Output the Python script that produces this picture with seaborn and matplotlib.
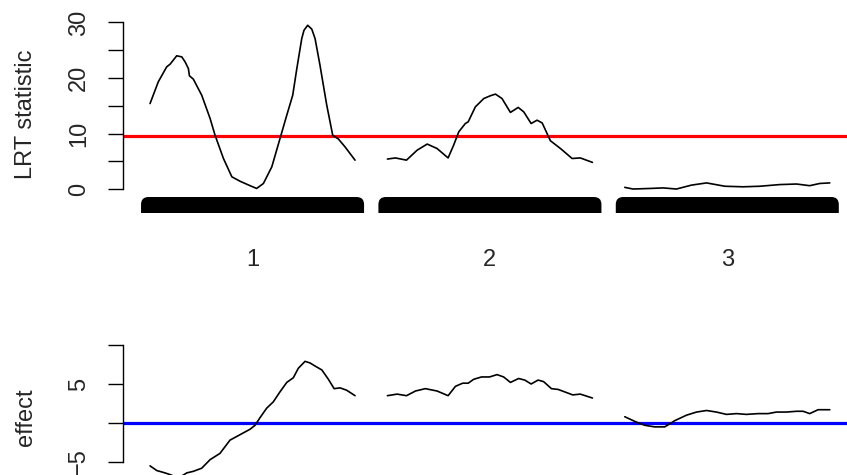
import pandas as pd
import matplotlib
matplotlib.use('Agg')
import matplotlib.pyplot as plt
from matplotlib.patches import FancyBboxPatch
import seaborn as sns

# Chromosomes and map
chroms = ['1', '2', '3']
chrom_len = [100, 100, 100]
gap = 15.8
threshold = 9.6

# LRT statistic per chromosome (position in cM, value)
pos1_lod = [0, 4.0, 8.1, 9.8, 13.0, 15.5, 17.1, 18.7, 19.2, 21.1, 25.2, 29.3, 31.7, 35.8, 39.9, 43.9, 48.8,
            52.0, 55.3, 59.4, 63.4, 66.7, 69.6, 71.6, 74.0, 75.1, 76.9, 78.9, 80.5, 82.9, 86.2, 89.1, 91.9, 95.1, 100]
lod1 = [15.4, 19.3, 22.0, 22.5, 24.0, 23.8, 22.9, 21.7, 20.4, 19.8, 16.9, 12.7, 9.7, 5.5, 2.2, 1.4, 0.6,
        0.1, 1.0, 4.0, 9.1, 13.3, 16.9, 21.7, 27.1, 28.6, 29.5, 28.8, 27.1, 22.3, 15.1, 9.7, 9.0, 7.6, 5.2]

pos2_lod = [0, 3.9, 9.3, 14.5, 19.4, 24.2, 29.6, 32.3, 34.8, 38.0, 39.4, 42.9, 47.0, 50.2, 52.7, 55.9,
            60.0, 63.8, 66.5, 70.1, 73.0, 75.5, 79.5, 84.4, 90.1, 94.1, 100]
lod2 = [5.4, 5.6, 5.2, 7.0, 8.1, 7.3, 5.6, 7.9, 10.3, 11.8, 12.1, 14.8, 16.3, 16.8, 17.1, 16.3,
        13.8, 14.7, 13.9, 11.8, 12.4, 11.9, 8.7, 7.3, 5.5, 5.6, 4.8]

pos3_lod = [0, 4.0, 12.2, 18.7, 25.2, 32.5, 39.9, 48.8, 57.7, 65.9, 75.6, 83.8, 90.2, 95.1, 100]
lod3 = [0.3, 0.0, 0.1, 0.2, 0.0, 0.7, 1.1, 0.5, 0.4, 0.5, 0.8, 0.9, 0.6, 1.0, 1.1]

# Estimated effect per chromosome
pos1_eff = [0, 3.3, 7.3, 10.6, 13.7, 17.9, 21.1, 25.2, 29.3, 34.1, 39.0, 43.9, 48.8, 51.2, 53.7, 56.9,
            60.1, 63.4, 66.7, 69.9, 72.3, 75.6, 78.0, 80.5, 83.8, 87.0, 89.8, 92.7, 95.9, 100]
eff1 = [-5.5, -6.1, -6.4, -6.7, -7.1, -6.4, -6.2, -5.8, -4.7, -3.9, -2.2, -1.5, -0.8, -0.3, 0.7, 1.9,
        2.7, 4.0, 5.2, 5.8, 7.0, 7.9, 7.7, 7.3, 6.8, 5.6, 4.4, 4.5, 4.2, 3.5]

pos2_eff = [0, 4.7, 9.3, 13.7, 18.5, 24.2, 29.6, 33.2, 36.7, 39.4, 42.1, 45.9, 49.8, 53.5, 56.7, 60.0,
            64.0, 67.0, 70.1, 73.5, 76.2, 80.0, 83.3, 90.4, 94.1, 100]
eff2 = [3.5, 3.7, 3.5, 4.1, 4.4, 4.1, 3.5, 4.7, 5.1, 5.1, 5.6, 5.9, 5.9, 6.2, 5.9, 5.2,
        5.7, 5.5, 5.0, 5.5, 5.3, 4.4, 4.3, 3.6, 3.7, 3.2]

pos3_eff = [0, 4.9, 9.8, 14.6, 19.5, 24.4, 30.1, 35.0, 39.9, 44.7, 49.6, 54.5, 59.3, 65.0, 69.9, 74.0,
            78.9, 83.8, 87.0, 90.2, 94.3, 100]
eff3 = [0.8, 0.2, -0.3, -0.5, -0.5, 0.3, 1.0, 1.4, 1.6, 1.4, 1.1, 1.2, 1.1, 1.2, 1.2, 1.4,
        1.4, 1.5, 1.5, 1.2, 1.7, 1.7]

# Build long tables with genome-wide positions
offsets = []
start = 0
for L in chrom_len:
    offsets.append(start)
    start += L + gap


def build(pos_list, val_list, name):
    frames = []
    for c, off, p, v in zip(chroms, offsets, pos_list, val_list):
        frames.append(pd.DataFrame({'chr': c, 'gpos': [off + x for x in p], name: v}))
    return pd.concat(frames, ignore_index=True)


lod_df = build([pos1_lod, pos2_lod, pos3_lod], [lod1, lod2, lod3], 'lod')
eff_df = build([pos1_eff, pos2_eff, pos3_eff], [eff1, eff2, eff3], 'effect')

sns.set_style('white')
plt.rcParams['font.family'] = ['Liberation Sans', 'DejaVu Sans']
plt.rcParams['font.size'] = 17

fig = plt.figure(figsize=(8.47, 4.75), dpi=100)
ax1 = fig.add_axes([123 / 847, 1 - 213 / 475, 724 / 847, 198 / 475])
ax2 = fig.add_axes([123 / 847, 0, 724 / 847, 145 / 475])

xlim = (-13.2, 340.0)

# Top panel: LRT statistic
sns.lineplot(data=lod_df, x='gpos', y='lod', units='chr', estimator=None, sort=False,
             color='black', lw=1.2, ax=ax1, legend=False)
ax1.axhline(threshold, color='#ff0000', lw=2.3, zorder=1)
ax1.set_xlim(*xlim)
ax1.set_ylim(-4.32, 31.35)

# chromosome bars
bar_pad = 4.4
for off, L in zip(offsets, chrom_len):
    bar = FancyBboxPatch((off - bar_pad, -9), L + 2 * bar_pad, 9 - 1.44,
                         boxstyle='round,pad=0,rounding_size=3.6', mutation_aspect=0.369,
                         facecolor='black', edgecolor='none', zorder=2)
    ax1.add_patch(bar)

ax1.set_xticks([off + L / 2 for off, L in zip(offsets, chrom_len)])
ax1.set_xticklabels(chroms)
ax1.tick_params(axis='x', length=0, pad=26)
ax1.set_yticks([0, 5, 10, 15, 20, 25, 30])
ax1.set_yticklabels(['0', '', '10', '', '20', '', '30'])
ax1.set_xlabel('')
ax1.set_ylabel('LRT statistic')

# Bottom panel: effect
sns.lineplot(data=eff_df, x='gpos', y='effect', units='chr', estimator=None, sort=False,
             color='black', lw=1.2, ax=ax2, legend=False)
ax2.axhline(0, color='#0000ff', lw=2.3, zorder=1)
ax2.set_xlim(*xlim)
ax2.set_ylim(-6.67, 11.92)
ax2.set_xticks([])
ax2.set_yticks([-5, 0, 5, 10])
ax2.set_yticklabels(['\u22125', '', '5', ''])
ax2.set_xlabel('')
ax2.set_ylabel('effect')

for ax, ybounds in [(ax1, (0, 30)), (ax2, (-5, 10))]:
    ax.set_facecolor('none')
    for s in ['top', 'right', 'bottom']:
        ax.spines[s].set_visible(False)
    ax.spines['left'].set_color('black')
    ax.spines['left'].set_linewidth(1.0)
    ax.spines['left'].set_bounds(*ybounds)
    ax.tick_params(axis='y', length=10.8, width=1.0, color='black', pad=13,
                   labelrotation=90, left=True)
    plt.setp(ax.get_yticklabels(), va='center')

ax1.yaxis.set_label_coords(-0.1188, 0.5)
ax2.yaxis.set_label_coords(-0.1188, 0.40)

fig.savefig('out.png', dpi=100)
